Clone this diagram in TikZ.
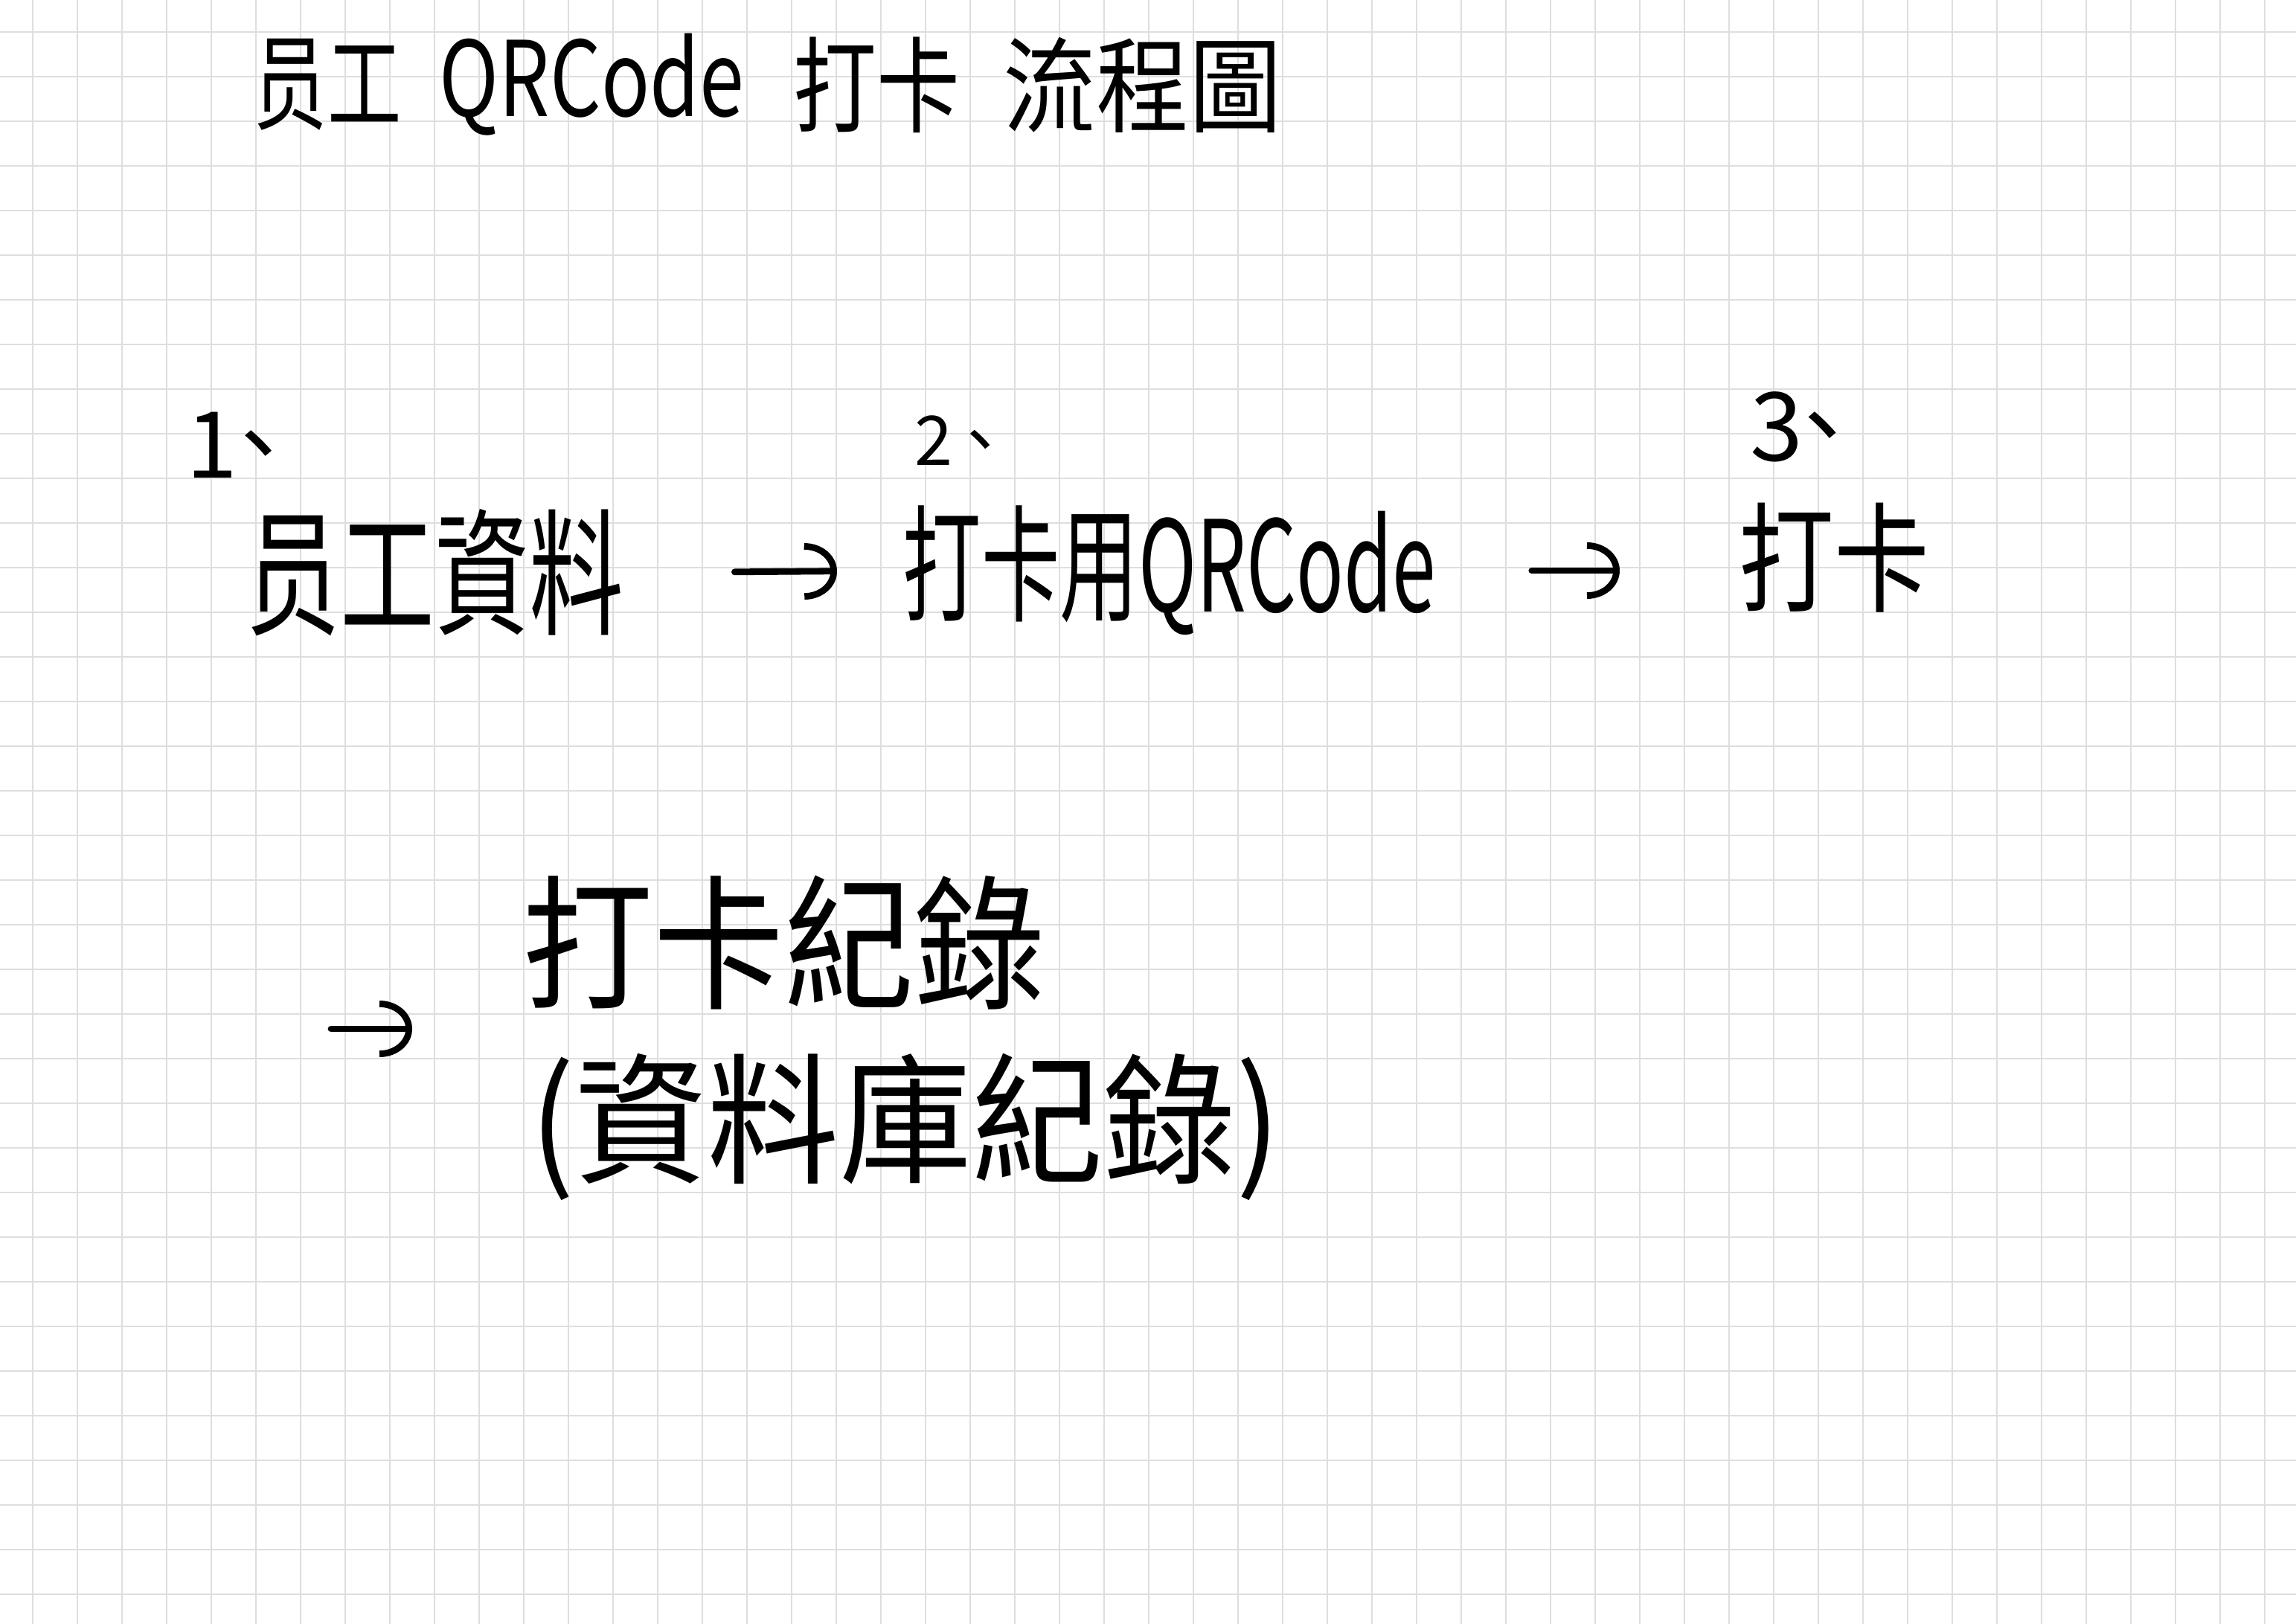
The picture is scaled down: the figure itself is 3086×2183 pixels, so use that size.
\documentclass[tikz,border=0pt]{standalone}
\usepackage{fontspec}
\usepackage{graphicx}
\usetikzlibrary{arrows.meta}
\newfontfamily\cjk{Noto Sans CJK TC}
\definecolor{gridgray}{HTML}{DEDEDE}
\tikzset{
  gridline/.style={draw=gridgray, line width=0.5pt},
  hand/.style={inner sep=0pt, anchor=west, text=black},
  pen/.style={line width=2.2pt, line cap=round, line join=round,
    -{Arc Barb[length=11pt, width=19pt, line width=2.2pt]}},
}
\newcommand{\fs}[1]{\cjk\fontsize{#1}{#1}\selectfont}
\begin{document}
\begin{tikzpicture}[x=0.25pt,y=-0.25pt]
\fill[white] (0,0) rectangle (3086,2183);
\useasboundingbox (0,0) rectangle (3086,2183);
\foreach \i in {0,...,50} \draw[gridline] ({44+60*\i},0) -- ({44+60*\i},2183);
\foreach \j in {0,...,35} \draw[gridline] (0,{42.7+60*\j}) -- (3086,{42.7+60*\j});

% title
\node[hand, font=\fs{35}] (t1) at (340,114) {\scalebox{0.71}[1]{员工}};
\node[hand, font=\fs{35}] (t2) at (590,114) {\scalebox{0.77}[1]{QRCode}};
\node[hand, font=\fs{35}] (t3) at (1066,114) {\scalebox{0.8}[1]{打卡}};
\node[hand, font=\fs{35}] (t4) at (1348,114) {\scalebox{0.89}[1]{流程圖}};

% step numbers
\node[hand, font=\fs{31}] (n1) at (250,598) {1\kern-0.28em 、};
\node[hand, font=\fs{23}] (n2) at (1229,592) {2\kern-0.1em 、};
\node[hand, font=\fs{32}] (n3) at (2352,574) {3\kern-0.3em 、};

% main row
\node[hand, font=\fs{46}] (data) at (330,770) {\scalebox{0.69}[1]{员工資料}};
\node[hand, font=\fs{42.5}] (qr) at (1213,767) {\scalebox{0.62}[1]{打卡用QRCode}};
\node[hand, font=\fs{40}] (punch) at (2337,750) {\scalebox{0.8}[1]{打卡}};

% record
\node[hand, font=\fs{48.75}] (rec1) at (702,1267) {\scalebox{0.9}[1]{打卡紀錄}};
\node[hand, font=\fs{47.5}] (rec2) at (712,1515) {\scalebox{0.935}[1]{(資料庫紀錄)}};

\coordinate (a3) at (445,1383);

\draw[pen, shorten <=37pt, shorten >=22pt] (data.east) -- (qr.west);
\draw[pen, shorten <=32pt, shorten >=40pt] (qr.east) -- (qr.east -| punch.west);
\draw[pen, shorten >=37pt] (a3) -- (a3 -| rec1.west);
\end{tikzpicture}
\end{document}
